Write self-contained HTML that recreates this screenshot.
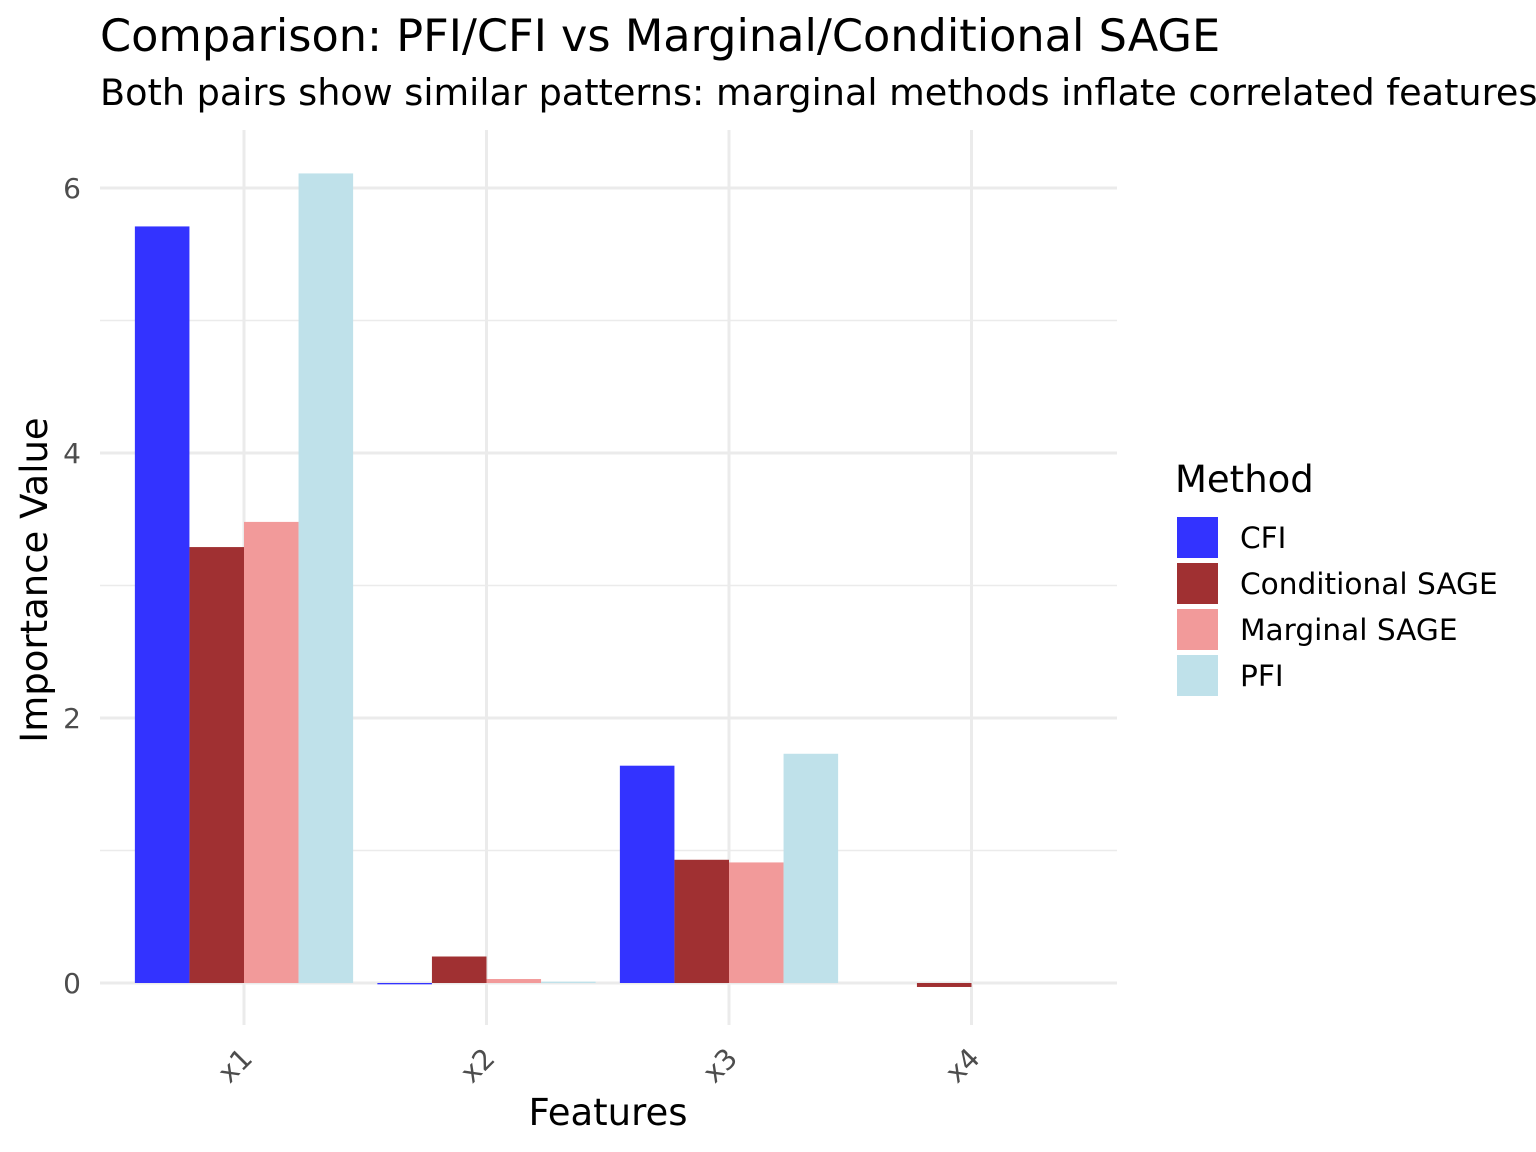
<!DOCTYPE html>
<html><head><meta charset="utf-8"><style>
body{margin:0;background:#fff;overflow:hidden;}
svg{display:block;font-family:"DejaVu Sans","Liberation Sans",sans-serif;}
</style></head><body>
<svg id="chart" width="1536" height="1152" viewBox="0 0 1536 1152">
<text x="100" y="51" font-size="44.6" fill="#000">Comparison: PFI/CFI vs Marginal/Conditional SAGE</text>
<text x="100" y="105" font-size="36.6" fill="#000">Both pairs show similar patterns: marginal methods inflate correlated features</text>
<g id="grid"></g>
<g id="bars"></g>
<g id="axes"></g>
<text x="47" y="580" font-size="37" text-anchor="middle" transform="rotate(-90 47 580)">Importance Value</text>
<text x="608" y="1125" font-size="37" text-anchor="middle">Features</text>
<g id="legend">
<text x="1175" y="492" font-size="37">Method</text>
</g>
</svg>
<script>
const categories = ["x1","x2","x3","x4"];
const methods = ["CFI","Conditional SAGE","Marginal SAGE","PFI"];
const cfiValues = [5.71,-0.01,1.64,0];
const condSageValues = [3.29,0.2,0.93,-0.03];
const margSageValues = [3.48,0.03,0.91,0];
const pfiValues = [6.11,0.01,1.73,0];
const yTicks = [0,2,4,6];
const yMinor = [1,3,5];
const colors = ["#3333ff","#a03032","#f29a9a","#bfe1ea"];
const series = [cfiValues,condSageValues,margSageValues,pfiValues];
const NS="http://www.w3.org/2000/svg";
const panel={l:100,r:1117,t:130,b:1025};
const y0=983, pxPerUnit=132.5;
function yScale(v){return y0-v*pxPerUnit;}
function xScale(i){return 244+i*242.5;}
const band=242.5, groupW=band*0.9, barW=groupW/methods.length;
function mk(tag,attrs,parent){const e=document.createElementNS(NS,tag);for(const k in attrs)e.setAttribute(k,attrs[k]);parent.appendChild(e);return e;}
const grid=document.getElementById('grid'),bars=document.getElementById('bars'),axes=document.getElementById('axes'),legend=document.getElementById('legend');
yMinor.forEach(v=>{const l=mk('line',{x1:panel.l,x2:panel.r,y1:yScale(v),y2:yScale(v),stroke:'#ebebeb','stroke-width':1.5},grid);

});
yTicks.forEach(v=>{const l=mk('line',{x1:panel.l,x2:panel.r,y1:yScale(v),y2:yScale(v),stroke:'#ebebeb','stroke-width':3},grid);


const t=mk('text',{x:81,y:yScale(v)+10,'font-size':28,fill:'#4d4d4d','text-anchor':'end'},axes);t.textContent=v;

});
categories.forEach((c,i)=>{const l=mk('line',{x1:xScale(i),x2:xScale(i),y1:panel.t,y2:panel.b,stroke:'#ebebeb','stroke-width':3},grid);


const tx=xScale(i)+10,ty=1060;
const t=mk('text',{x:tx,y:ty,'font-size':28,fill:'#4d4d4d','text-anchor':'end',transform:`rotate(-45 ${tx} ${ty})`},axes);t.textContent=c;


series.forEach((s,j)=>{const v=s[i];const x=xScale(i)-groupW/2+j*barW;const yt=Math.min(yScale(v),y0),h=Math.abs(yScale(v)-y0);
const r=mk('rect',{x:x,y:yt,width:barW,height:Math.max(h,0),fill:colors[j]},bars);

});});
methods.forEach((m,j)=>{const y=517+j*46;
const r=mk('rect',{x:1177,y:y,width:41,height:41,fill:colors[j]},legend);


const t=mk('text',{x:1240,y:y+31,'font-size':29.6,fill:'#000'},legend);t.textContent=m;

});
</script>
</body></html>
